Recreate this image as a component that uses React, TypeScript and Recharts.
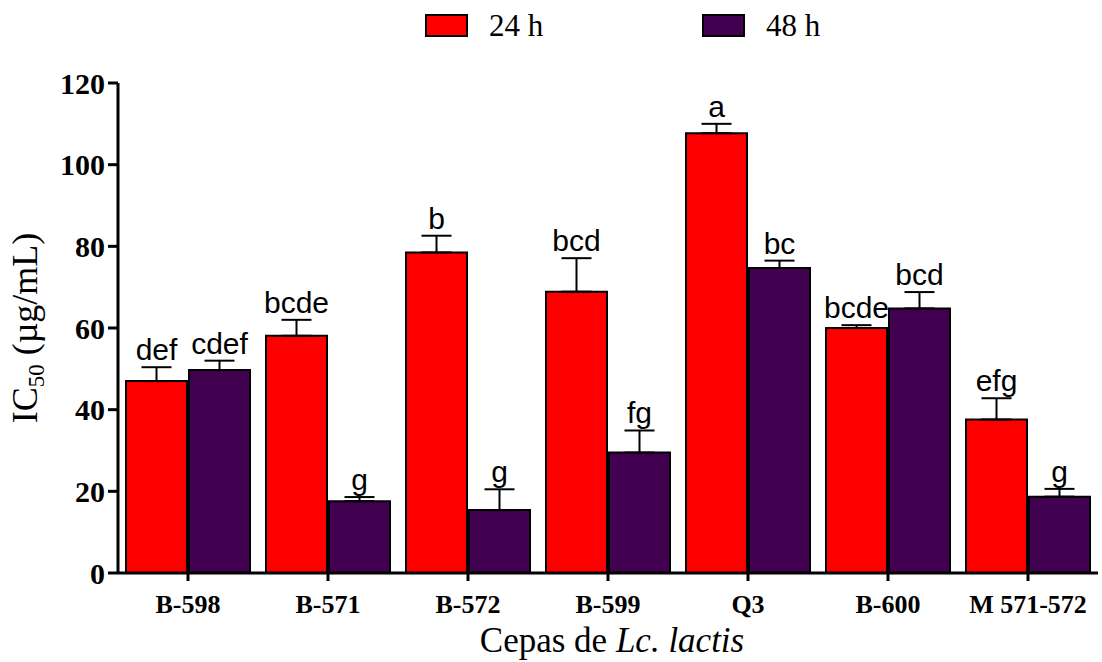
import { BarChart, Bar, XAxis, YAxis, ErrorBar, LabelList, Label } from 'recharts'

// IC50 per strain after 24 h and 48 h, with the upper SEM and the Tukey letters
const strains = ['B-598', 'B-571', 'B-572', 'B-599', 'Q3', 'B-600', 'M 571-572']
const seriesNames = ['24 h', '48 h']
const ic50At24h = [47.0, 58.1, 78.5, 68.9, 107.7, 60.0, 37.6]
const sem24h = [3.4, 3.9, 4.1, 8.2, 2.3, 0.7, 5.2]
const ic50At48h = [49.7, 17.6, 15.4, 29.5, 74.7, 64.8, 18.7]
const sem48h = [2.3, 1.0, 5.1, 5.4, 1.8, 4.0, 1.9]
const letters24h = ['def', 'bcde', 'b', 'bcd', 'a', 'bcde', 'efg']
const letters48h = ['cdef', 'g', 'g', 'fg', 'bc', 'bcd', 'g']
const yTicks = [0, 20, 40, 60, 80, 100, 120]

const COLORS = ['#ff0000', '#420050']
const SERIF = '"Liberation Serif", "Times New Roman", serif'
const SANS = '"Liberation Sans", Arial, sans-serif'

const chartData = strains.map((name, i) => ({
  name,
  h24: ic50At24h[i],
  h24Err: [0, sem24h[i]],
  h48: ic50At48h[i],
  h48Err: [0, sem48h[i]],
}))

// letter sits just above the error bar cap
const makeLetterLabel = (letters: string[], errs: number[]) => (props: any) => {
  const box = props.viewBox ?? props
  const { x, y, width, height } = box
  const value = Number(props.value)
  const index = props.index
  if (!value || height == null) return null
  const pxPerUnit = Math.abs(height) / value
  const capY = Math.min(y, y + height) - errs[index] * pxPerUnit
  return (
    <text
      x={x + width / 2}
      y={capY - 7}
      textAnchor="middle"
      fontFamily={SANS}
      fontSize={30}
      fill="#000"
    >
      {letters[index]}
    </text>
  )
}

const YTitle = (props: any) => {
  const vb = props.viewBox
  const cy = vb.y + vb.height / 2
  return (
    <text
      transform={`translate(37, ${cy}) rotate(-90)`}
      textAnchor="middle"
      fontFamily={SERIF}
      fontSize={36}
      fill="#000"
    >
      IC
      <tspan fontSize={23} dy={7}>50</tspan>
      <tspan dy={-7}> (µg/mL)</tspan>
    </text>
  )
}

const XTitle = (props: any) => {
  const vb = props.viewBox
  return (
    <text
      x={vb.x + vb.width / 2 + 4}
      y={652}
      textAnchor="middle"
      fontFamily={SERIF}
      fontSize={35}
      fill="#000"
    >
      Cepas de <tspan fontStyle="italic">Lc. lactis</tspan>
    </text>
  )
}

const legendBoxX = [426, 703]
const legendTextX = [489, 766]

export default function App() {
  return (
    <div style={{ position: 'absolute', left: 0, top: 0, width: 1102, height: 662, background: '#fff' }}>
      <BarChart
        width={1102}
        height={662}
        data={chartData}
        margin={{ top: 83, right: 4, left: 58, bottom: 0 }}
        barCategoryGap={8}
        barGap={2}
      >
        <XAxis
          dataKey="name"
          interval={0}
          height={89}
          tickSize={8}
          tickMargin={14}
          axisLine={{ stroke: '#000', strokeWidth: 3 }}
          tickLine={{ stroke: '#000', strokeWidth: 3 }}
          tick={{ fill: '#000', fontSize: 26, fontWeight: 'bold', fontFamily: SERIF }}
        >
          <Label content={<XTitle />} />
        </XAxis>
        <YAxis
          domain={[0, 120]}
          ticks={yTicks}
          width={60}
          tickSize={10}
          tickMargin={3}
          axisLine={{ stroke: '#000', strokeWidth: 3 }}
          tickLine={{ stroke: '#000', strokeWidth: 3 }}
          tick={{ fill: '#000', fontSize: 30, fontWeight: 'bold', fontFamily: SERIF }}
        >
          <Label content={<YTitle />} />
        </YAxis>
        <Bar dataKey="h24" name={seriesNames[0]} fill={COLORS[0]} stroke="#000" strokeWidth={2} isAnimationActive={false}>
          <ErrorBar dataKey="h24Err" width={15} stroke="#000" strokeWidth={2} isAnimationActive={false} />
          <LabelList dataKey="h24" content={makeLetterLabel(letters24h, sem24h)} />
        </Bar>
        <Bar dataKey="h48" name={seriesNames[1]} fill={COLORS[1]} stroke="#000" strokeWidth={2} isAnimationActive={false}>
          <ErrorBar dataKey="h48Err" width={15} stroke="#000" strokeWidth={2} isAnimationActive={false} />
          <LabelList dataKey="h48" content={makeLetterLabel(letters48h, sem48h)} />
        </Bar>
      </BarChart>
      <svg
        width={1102}
        height={50}
        style={{ position: 'absolute', left: 0, top: 0, pointerEvents: 'none' }}
      >
        {seriesNames.map((name, i) => (
          <g key={name}>
            <rect x={legendBoxX[i]} y={15} width={41} height={21} fill={COLORS[i]} stroke="#000" strokeWidth={2} />
            <text x={legendTextX[i]} y={36} fontFamily={SERIF} fontSize={31} fill="#000">
              {name}
            </text>
          </g>
        ))}
      </svg>
    </div>
  )
}
